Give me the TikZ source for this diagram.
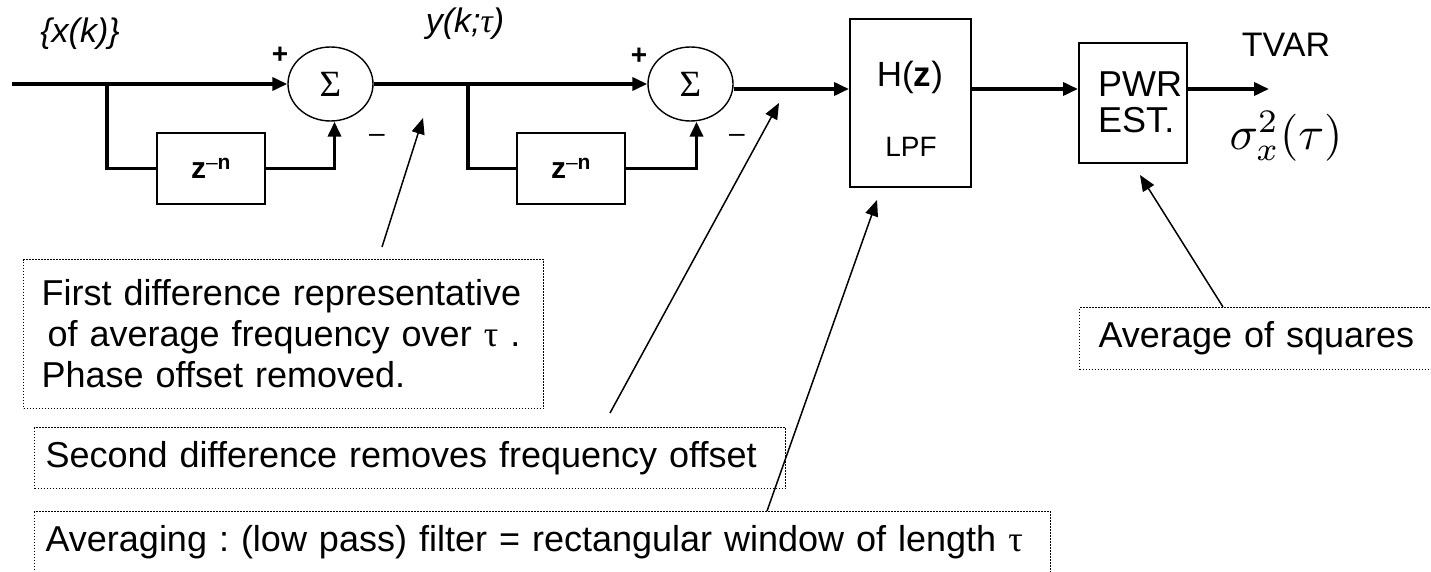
\documentclass[tikz,border=0pt]{standalone}
\usepackage[no-math]{fontspec}
\setmainfont{Liberation Sans}
\newfontfamily\symfont{Liberation Serif}
\usepackage{graphicx}
\usepackage{tikz}
\usetikzlibrary{shapes.geometric, arrows.meta, positioning, calc}

\begin{document}
\begin{tikzpicture}[
    x=1pt, y=-1pt,
    block/.style={rectangle, draw, line width=2pt, inner sep=0pt},
    summer/.style={ellipse, draw, line width=1.4pt, minimum width=85pt, minimum height=74pt, inner sep=0pt, font=\fontsize{37}{37}\symfont},
    note/.style={rectangle, draw, line width=1.2pt, dash pattern=on 1.2pt off 1.8pt, align=left, anchor=north west, font=\fontsize{36}{41}\selectfont\frenchspacing},
    flow/.style={-{Triangle[length=15pt, width=13pt]}, line width=3.6pt},
    wire/.style={line width=3.6pt},
    pointer/.style={-{Triangle[length=16pt, width=13pt]}, line width=1.5pt},
    sign/.style={font=\fontsize{28}{28}\selectfont}
  ]

    \useasboundingbox (0,0) rectangle (1431,572);

    % Summing junctions
    \node[summer] (sumA) at (330.5, 84) {Σ};
    \node[summer] (sumB) at (690.5, 84) {Σ};
    \node[sign] (plusA) at (280, 55) {\textbf{+}};
    \node[sign] (minusA) at (377, 138) {–};
    \node[sign] (plusB) at (639, 56) {\textbf{+}};
    \node[sign] (minusB) at (737, 138) {–};

    % Delays
    \node[block, minimum width=108pt, minimum height=71pt, font=\fontsize{30}{30}\selectfont] (dlyA) at (211, 168.5) {\textbf{z}\textsuperscript{–\textbf{n}}};
    \node[block, minimum width=108pt, minimum height=71pt, font=\fontsize{30}{30}\selectfont] (dlyB) at (571, 168.5) {\textbf{z}\textsuperscript{–\textbf{n}}};

    % Filter and power estimate
    \node[block, minimum width=121pt, minimum height=168pt] (lpf) at (910.5, 103) {};
    \node[font=\fontsize{35}{35}\selectfont] (hz) at (910, 77) {H(\textbf{z})};
    \node[font=\fontsize{28}{28}\selectfont] (lpftxt) at (911, 147) {LPF};
    \node[block, minimum width=108pt, minimum height=120pt] (pwr) at (1133, 103) {};
    \node[font=\fontsize{36}{36}\selectfont, align=left, anchor=west, inner sep=0pt] (pwrtxt) at (1098, 102) {PWR\\EST.};

    % Signal labels
    \node[font=\fontsize{34}{34}\selectfont\itshape] (xk) at (80, 34) {\{x(k)\}};
    \node[font=\fontsize{34}{34}\selectfont\itshape] (ytau) at (465, 24) {y(k;{\symfont τ})};
    \node[font=\fontsize{34}{34}\selectfont] (tvar) at (1286, 45) {TVAR};
    \node[inner sep=0pt] (sigma) at (1286, 136) {\scalebox{4.7}{$\sigma_x^2(\tau)$}};

    % Signal path
    \coordinate (in) at (12, 84);
    \coordinate (brA) at (107, 84);
    \coordinate (brB) at (468, 84);
    \coordinate (lvl) at (0, 89);
    \coordinate (out) at (1269, 89);
    \draw[flow] (in) -- (sumA.west);
    \draw[wire] (brA) |- (dlyA.west);
    \draw[flow] (dlyA.east) -| ([xshift=4pt]sumA.south);
    \draw[flow] (sumA.east) -- (sumB.west);
    \draw[wire] (brB) |- (dlyB.west);
    \draw[flow] (dlyB.east) -| ([xshift=6pt]sumB.south);
    \draw[flow] ([yshift=-5pt]sumB.east) -- (lpf.west |- lvl);
    \draw[flow] (lpf.east |- lvl) -- (pwr.west |- lvl);
    \draw[flow] (pwr.east |- lvl) -- (out);

    % Notes
    \node[note, minimum width=520pt, minimum height=149pt, inner xsep=18pt, text width=484pt] (noteA) at (23, 259)
      {First difference representative\\\hspace*{6pt}of average frequency over {\symfont τ} .\\Phase offset removed.};
    \node[note, minimum width=751pt, minimum height=61pt, inner xsep=11pt, text width=729pt] (noteB) at (34, 427)
      {Second difference removes frequency offset};
    \node[note, minimum width=1016pt, minimum height=62pt, inner xsep=11pt, text width=994pt] (noteC) at (34, 511)
      {Averaging : (low pass) filter = rectangular window of length {\symfont τ}};
    \node[note, minimum width=354pt, minimum height=62pt, inner xsep=19pt, text width=316pt] (noteD) at (1079, 307)
      {Average of squares};

    % Pointers
    \coordinate (tipA) at (423, 118);
    \coordinate (tailA) at (382, 247);
    \coordinate (tipB) at (779, 103);
    \coordinate (tailB) at (610, 413);
    \coordinate (tipC) at (877, 200);
    \coordinate (tailC) at (767, 511);
    \coordinate (tipD) at (1140, 175);
    \coordinate (tailD) at (1223, 307);
    \draw[pointer] (tailA) -- (tipA);
    \draw[pointer] (tailB) -- (tipB);
    \draw[pointer] (tailC) -- (tipC);
    \draw[pointer] (tailD) -- (tipD);

\end{tikzpicture}
\end{document}
